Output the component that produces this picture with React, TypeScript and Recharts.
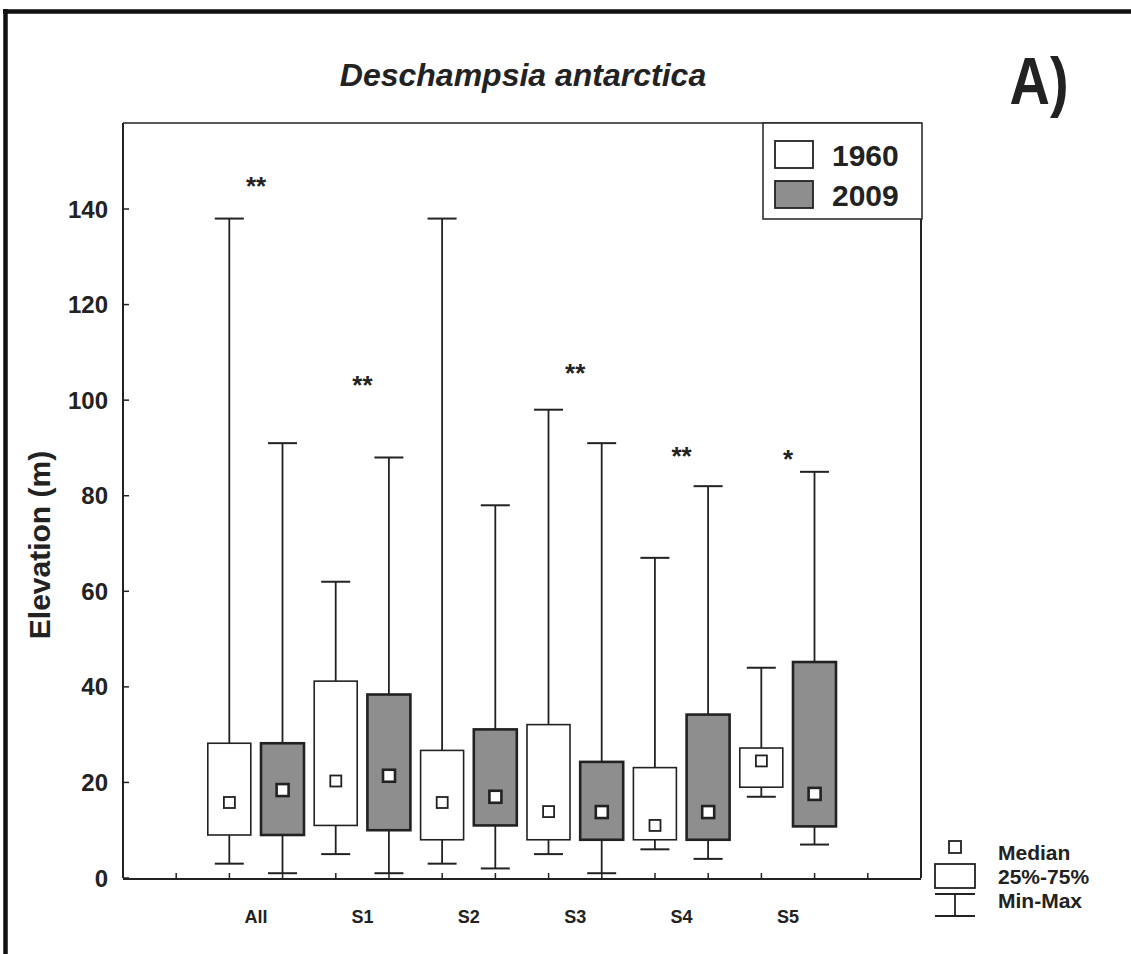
import { ComposedChart, Bar, Scatter, XAxis, YAxis } from 'recharts'

const categories = ['All', 'S1', 'S2', 'S3', 'S4', 'S5']
const years = ['1960', '2009']

const min1960 = [3, 5, 3, 5, 6, 17]
const q1_1960 = [9, 11, 8, 8, 8, 19]
const med1960 = [15.8, 20.3, 15.8, 13.9, 11, 24.5]
const q3_1960 = [28.2, 41.2, 26.7, 32.1, 23.1, 27.2]
const max1960 = [138, 62, 138, 98, 67, 44]

const min2009 = [1, 1, 2, 1, 4, 7]
const q1_2009 = [9, 10, 11, 8, 8, 10.8]
const med2009 = [18.4, 21.4, 17, 13.8, 13.8, 17.6]
const q3_2009 = [28.2, 38.4, 31.1, 24.3, 34.2, 45.2]
const max2009 = [91, 88, 78, 91, 82, 85]

const significance = ['**', '**', '', '**', '**', '*']
const sigLevel = [146, 104.5, 0, 107, 89.5, 89]

const yTicks = [0, 20, 40, 60, 80, 100, 120, 140]
const slotTicks = [1, 2, 3, 4, 5, 6, 7, 8, 9, 10, 11, 12, 13, 14]

const INK = '#222'
const GREY = '#8e8e8e'
const FONT = '"Liberation Sans", Arial, sans-serif'

const rows = categories.flatMap((c, i) => [
  { pos: 2 + 2 * i, year: years[0], range: [min1960[i], max1960[i]], min: min1960[i], q1: q1_1960[i], med: med1960[i], q3: q3_1960[i], max: max1960[i] },
  { pos: 3 + 2 * i, year: years[1], range: [min2009[i], max2009[i]], min: min2009[i], q1: q1_2009[i], med: med2009[i], q3: q3_2009[i], max: max2009[i] },
])

const sigRows = categories
  .map((c, i) => ({ pos: 2.5 + 2 * i, level: sigLevel[i], text: significance[i] }))
  .filter(r => r.text)

function BoxShape(props: any) {
  const { x, y, width, height, payload } = props
  const top = Math.min(y, y + height)
  const bottom = Math.max(y, y + height)
  const { min, max, q1, q3, year } = payload
  const py = (v: number) => top + (bottom - top) * (max - v) / (max - min)
  const cx = x + width / 2
  const old = year === '1960'
  return (
    <g>
      <line x1={cx} x2={cx} y1={top} y2={bottom} stroke={INK} strokeWidth={1.8} />
      <line x1={cx - 14.5} x2={cx + 14.5} y1={top} y2={top} stroke={INK} strokeWidth={2} />
      <line x1={cx - 14.5} x2={cx + 14.5} y1={bottom} y2={bottom} stroke={INK} strokeWidth={2} />
      <rect x={cx - width / 2} y={py(q3)} width={width} height={py(q1) - py(q3)}
        fill={old ? '#fff' : GREY} stroke={INK} strokeWidth={old ? 1.6 : 2.6} />
    </g>
  )
}

function MedianShape(props: any) {
  const { cx, cy, payload } = props
  const s = payload.year === '1960' ? 11 : 12
  return <rect x={cx - s / 2} y={cy - s / 2} width={s} height={s} fill="#fff" stroke={INK}
    strokeWidth={payload.year === '1960' ? 1.8 : 2.6} />
}

function SigShape(props: any) {
  const { cx, cy, payload } = props
  return <text x={cx} y={cy + 15} textAnchor="middle" fontFamily={FONT} fontWeight="bold" fontSize={26} fill={INK}>{payload.text}</text>
}

function LeftTick({ x, y, payload }: any) {
  return (
    <g>
      <line x1={x} x2={x + 6} y1={y} y2={y} stroke={INK} strokeWidth={1.5} />
      <text x={x - 15} y={y} textAnchor="end" dominantBaseline="central" fontFamily={FONT}
        fontWeight="bold" fontSize={24} fill={INK}>{payload.value}</text>
    </g>
  )
}

function RightTick({ x, y }: any) {
  return <line x1={x} x2={x - 6} y1={y} y2={y} stroke={INK} strokeWidth={1.5} />
}

function SlotTick({ x, y }: any) {
  return <line x1={x} x2={x} y1={y} y2={y - 6} stroke={INK} strokeWidth={1.5} />
}

function LabelTick({ x, y, payload }: any) {
  return <text x={x} y={y + 45} textAnchor="middle" fontFamily={FONT} fontWeight="bold" fontSize={18} fill={INK}>
    {categories[Math.round((payload.value - 2.5) / 2)]}
  </text>
}

export default function App() {
  return (
    <div style={{ position: 'absolute', left: 0, top: 0, width: 1131, height: 954, background: '#fff' }}>
      <ComposedChart width={1131} height={954} data={rows}
        margin={{ top: 122, right: 200, bottom: 74, left: 63 }}>
        <XAxis xAxisId="slots" dataKey="pos" type="number" domain={[0, 15]} ticks={slotTicks}
          height={1} tickSize={0} tickMargin={0} tickLine={false} tick={<SlotTick />} interval={0}
          axisLine={{ stroke: INK, strokeWidth: 2 }} />
        <XAxis xAxisId="lab" dataKey="pos" type="number" domain={[0, 15]} ticks={categories.map((c, i) => 2.5 + 2 * i)}
          height={1} tickSize={0} tickMargin={0} tickLine={false} axisLine={false} tick={<LabelTick />} interval={0} />
        <XAxis xAxisId="top" orientation="top" type="number" domain={[0, 15]} height={1}
          tick={false} tickLine={false} axisLine={{ stroke: INK, strokeWidth: 1.5 }} />
        <YAxis yAxisId="left" type="number" domain={[0, 158]} ticks={yTicks} width={60}
          tickSize={0} tickMargin={0} tickLine={false} tick={<LeftTick />} interval={0}
          axisLine={{ stroke: INK, strokeWidth: 2 }} />
        <YAxis yAxisId="right" orientation="right" type="number" domain={[0, 158]} ticks={yTicks} width={10}
          tickSize={0} tickMargin={0} tickLine={false} tick={<RightTick />} interval={0}
          axisLine={{ stroke: INK, strokeWidth: 2 }} />
        <Bar xAxisId="slots" yAxisId="left" dataKey="range" barSize={43} shape={<BoxShape />} isAnimationActive={false} />
        <Scatter xAxisId="slots" yAxisId="left" dataKey="med" shape={<MedianShape />} isAnimationActive={false} />
        <Scatter xAxisId="lab" yAxisId="left" data={sigRows} dataKey="level" shape={<SigShape />} isAnimationActive={false} />
      </ComposedChart>
      <svg width={1131} height={954} style={{ position: 'absolute', left: 0, top: 0, pointerEvents: 'none' }}>
        <line x1={3} x2={1131} y1={11.5} y2={11.5} stroke="#111" strokeWidth={4.5} />
        <line x1={5.5} x2={5.5} y1={9} y2={954} stroke="#111" strokeWidth={4.5} />
        <text x={523} y={86} textAnchor="middle" fontFamily={FONT} fontWeight="bold" fontStyle="italic"
          fontSize={32} fill={INK}>Deschampsia antarctica</text>
        <text transform="translate(1039,104) scale(1,1.2)" textAnchor="middle" fontFamily={FONT} fontWeight="bold"
          fontSize={56} fill={INK}>A)</text>
        <text transform="translate(50,545) rotate(-90)" textAnchor="middle" fontFamily={FONT} fontWeight="bold"
          fontSize={30} fill={INK}>Elevation (m)</text>
        <rect x={763} y={123} width={159} height={96} fill="#fff" stroke={INK} strokeWidth={1.5} />
        <rect x={775} y={141} width={38} height={27} fill="#fff" stroke={INK} strokeWidth={1.8} />
        <rect x={775} y={181} width={38} height={27} fill={GREY} stroke={INK} strokeWidth={1.8} />
        <text x={832} y={166} fontFamily={FONT} fontWeight="bold" fontSize={30} fill={INK}>{years[0]}</text>
        <text x={832} y={206} fontFamily={FONT} fontWeight="bold" fontSize={30} fill={INK}>{years[1]}</text>
        <rect x={949} y={841} width={12} height={12} fill="#fff" stroke={INK} strokeWidth={1.8} />
        <rect x={935} y={864} width={40} height={24} fill="#fff" stroke={INK} strokeWidth={1.8} />
        <line x1={935} x2={975} y1={894} y2={894} stroke={INK} strokeWidth={2} />
        <line x1={955} x2={955} y1={894} y2={916} stroke={INK} strokeWidth={1.8} />
        <line x1={935} x2={975} y1={916} y2={916} stroke={INK} strokeWidth={2} />
        <text x={998} y={860} fontFamily={FONT} fontWeight="bold" fontSize={21} fill={INK}>Median</text>
        <text x={998} y={884} fontFamily={FONT} fontWeight="bold" fontSize={21} fill={INK}>25%-75%</text>
        <text x={998} y={908} fontFamily={FONT} fontWeight="bold" fontSize={21} fill={INK}>Min-Max</text>
      </svg>
    </div>
  )
}
